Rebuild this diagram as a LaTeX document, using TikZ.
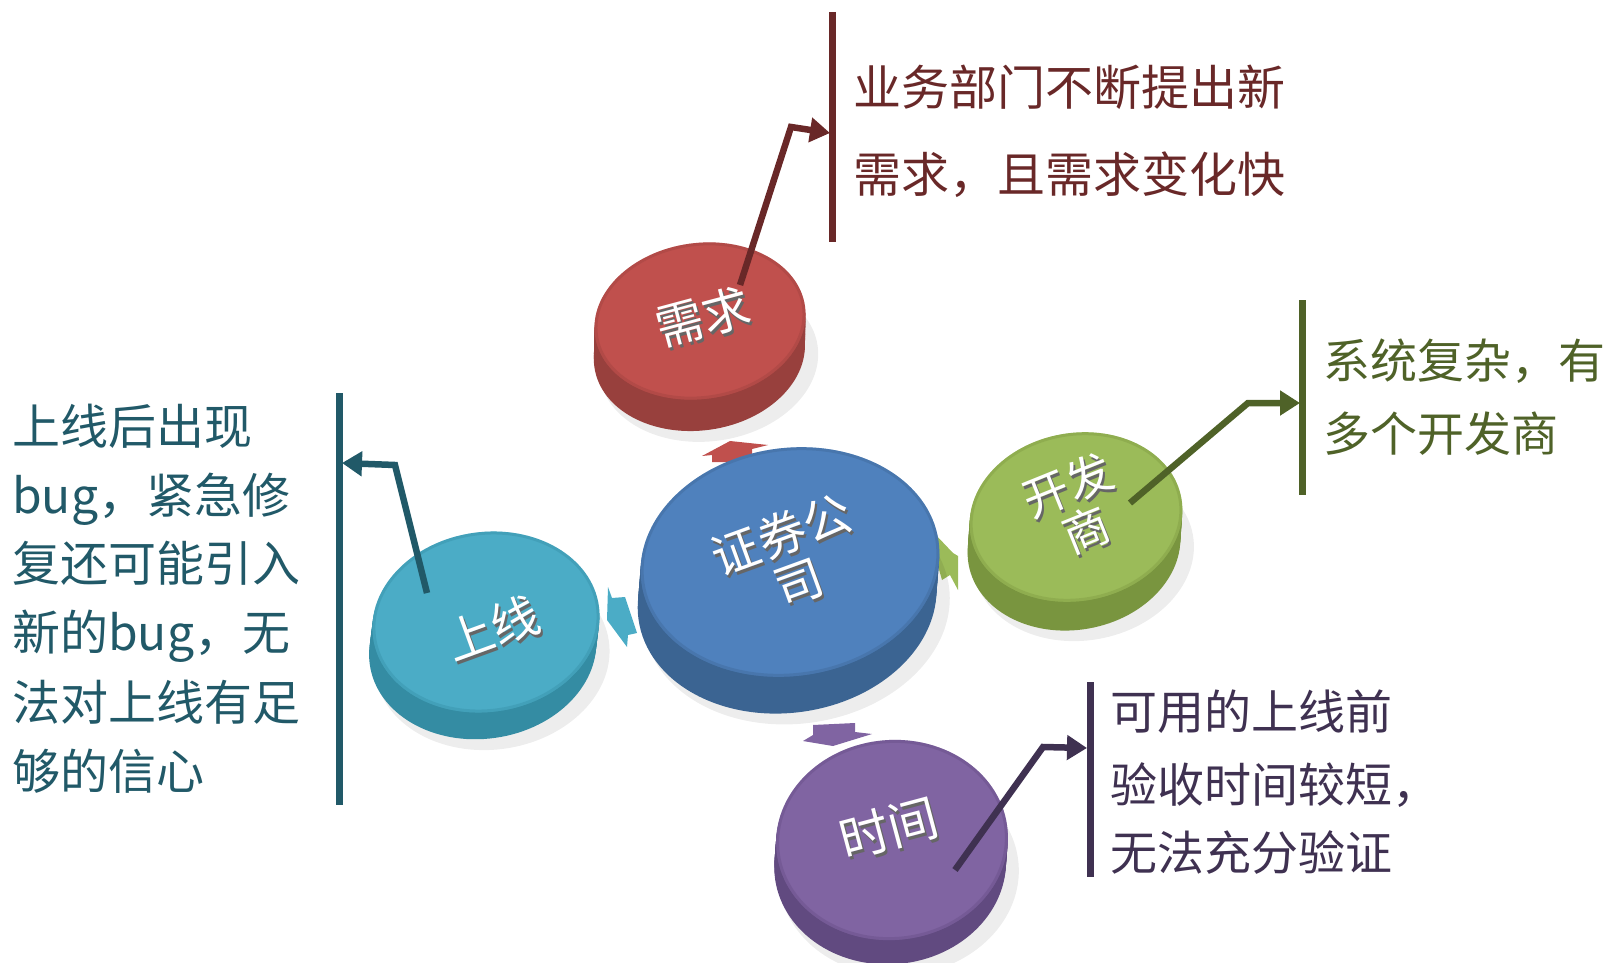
\documentclass[tikz,border=0pt]{standalone}
\usepackage{fontspec}
\newfontfamily\cjk{Noto Sans CJK SC}
\usetikzlibrary{arrows.meta}
\definecolor{redface}{HTML}{C0504D}
\definecolor{redside}{HTML}{98403D}
\definecolor{blueface}{HTML}{4F81BD}
\definecolor{blueside}{HTML}{3B6492}
\definecolor{cyanface}{HTML}{4BACC6}
\definecolor{cyanside}{HTML}{348CA3}
\definecolor{greenface}{HTML}{9BBB59}
\definecolor{greenside}{HTML}{79953F}
\definecolor{purpface}{HTML}{8064A2}
\definecolor{purpside}{HTML}{614A80}
\definecolor{redtxt}{HTML}{692828}
\definecolor{greentxt}{HTML}{4F6228}
\definecolor{tealtxt}{HTML}{215968}
\definecolor{purptxt}{HTML}{3F3151}
\newcommand\drawdisc[9]{%
  \begin{scope}[shift={(#1,#2)},rotate=#5]
    \fill[black,opacity=0.07] (#6+8,#7+10) ellipse[x radius=#3pt+4pt,y radius=#4pt+2pt];
    \foreach \k in {10,9,...,1}{\fill[#9] (\k*#6/10,\k*#7/10) ellipse[x radius=#3pt,y radius=#4pt];}
    \fill[#8] (0,0) ellipse[x radius=#3pt,y radius=#4pt];
    \draw[#9,opacity=0.35,line width=3pt] (0,0) ellipse[x radius=#3pt-1.5pt,y radius=#4pt-1.5pt];
  \end{scope}}
\begin{document}
\begin{tikzpicture}[x=1pt,y=-1pt,
  lbl/.style={font=\cjk\fontsize{48pt}{51pt}\selectfont,text=white,align=center,inner sep=0pt},
  lblsh/.style={lbl,text=black!60},
  txt/.style={anchor=base west,inner sep=0pt},
  co/.style={line width=6.5pt,-{Triangle[length=20pt,width=24pt]}},
  barline/.style={line width=7pt}]
\useasboundingbox (0,0) rectangle (1611,963);
% small block arrows
\fill[redface] (702,456) -- (730,441) -- (768,445) -- (752,449) -- (752,462) -- (712,462) -- (712,455) -- cycle;
\fill[cyanface] (608,587) -- (612,598) -- (625,597) -- (637,633) -- (628,635) -- (627,647) -- (607,620) -- cycle;
\fill[greenface] (933,532) -- (953,553) -- (958,556) -- (958,590) -- (950,575) -- (942,580) -- (932,545) -- cycle;
\fill[purpface] (813,725) -- (855,723) -- (855,732) -- (872,734) -- (833,746) -- (803,741) -- (813,735) -- cycle;
% discs
\drawdisc{700}{321}{106}{78}{8}{-5}{31}{redface}{redside}
\drawdisc{790}{562}{150}{114}{8}{-8}{36}{blueface}{blueside}
\drawdisc{486}{622}{114}{90}{8}{-7}{26}{cyanface}{cyanside}
\drawdisc{1076}{517}{107}{84}{10}{-7}{28}{greenface}{greenside}
\drawdisc{892}{840}{116}{100}{5}{-4}{24}{purpface}{purpside}
% disc labels
\node[lblsh,rotate=15] (xqs) at (705,320) {需求};
\node[lbl,rotate=15] (xq) at (703,317) {需求};
\node[lblsh,rotate=20] (zqs) at (792,561) {证券公\\司};
\node[lbl,rotate=20] (zq) at (790,558) {证券公\\司};
\node[lblsh,rotate=20] (sxs) at (494,631) {上线};
\node[lbl,rotate=20] (sx) at (492,628) {上线};
\node[lblsh,rotate=15,font=\cjk\fontsize{50pt}{52pt}\selectfont] (sjs) at (891,831) {时间};
\node[lbl,rotate=15,font=\cjk\fontsize{50pt}{52pt}\selectfont] (sj) at (889,828) {时间};
\node[lblsh,rotate=22,font=\cjk\fontsize{46pt}{48pt}\selectfont] (kfs) at (1079,510) {开发\\商};
\node[lbl,rotate=22,font=\cjk\fontsize{46pt}{48pt}\selectfont] (kf) at (1077,507) {开发\\商};
% callout: red
\coordinate (r0) at (740,285);
\coordinate (r1) at (791,127);
\coordinate (r2) at (830,133);
\coordinate (rbt) at (832,12);
\coordinate (rbb) at (832,242);
\draw[barline,redtxt] (rbt) -- (rbb);
\draw[co,redtxt] (r0) -- (r1) -- (r2);
\begin{scope}[font=\cjk\fontsize{48pt}{50pt}\selectfont,text=redtxt]
\node[txt] (rt1) at (853,106) {业务部门不断提出新};
\node[txt] (rt2) at (853,192) {需求，且需求变化快};
\end{scope}
% callout: green
\coordinate (g0) at (1130,503);
\coordinate (g1) at (1248,403);
\coordinate (g2) at (1300,403);
\coordinate (gbt) at (1302,300);
\coordinate (gbb) at (1302,495);
\draw[barline,greentxt] (gbt) -- (gbb);
\draw[co,greentxt] (g0) -- (g1) -- (g2);
\begin{scope}[font=\cjk\fontsize{47pt}{50pt}\selectfont,text=greentxt]
\node[txt] (gt1) at (1323,378) {系统复杂，有};
\node[txt] (gt2) at (1323,451) {多个开发商};
\end{scope}
% callout: teal
\coordinate (t0) at (427,593);
\coordinate (t1) at (395,465);
\coordinate (t2) at (342,463);
\coordinate (tbt) at (339,393);
\coordinate (tbb) at (339,805);
\draw[barline,tealtxt] (tbt) -- (tbb);
\draw[co,tealtxt] (t0) -- (t1) -- (t2);
\begin{scope}[font=\cjk\fontsize{48pt}{50pt}\selectfont,text=tealtxt]
\node[txt] (tt1) at (12,444) {上线后出现};
\node[txt] (tt2) at (12,513) {bug，紧急修};
\node[txt] (tt3) at (12,581) {复还可能引入};
\node[txt] (tt4) at (12,650) {新的bug，无};
\node[txt] (tt5) at (12,720) {法对上线有足};
\node[txt] (tt6) at (12,789) {够的信心};
\end{scope}
% callout: purple
\coordinate (p0) at (955,870);
\coordinate (p1) at (1043,747);
\coordinate (p2) at (1087,748);
\coordinate (pbt) at (1090,682);
\coordinate (pbb) at (1090,877);
\draw[barline,purptxt] (pbt) -- (pbb);
\draw[co,purptxt] (p0) -- (p1) -- (p2);
\begin{scope}[font=\cjk\fontsize{47pt}{50pt}\selectfont,text=purptxt]
\node[txt] (pt1) at (1110,729) {可用的上线前};
\node[txt] (pt2) at (1110,802) {验收时间较短，};
\node[txt] (pt3) at (1110,870) {无法充分验证};
\end{scope}
\end{tikzpicture}
\end{document}
